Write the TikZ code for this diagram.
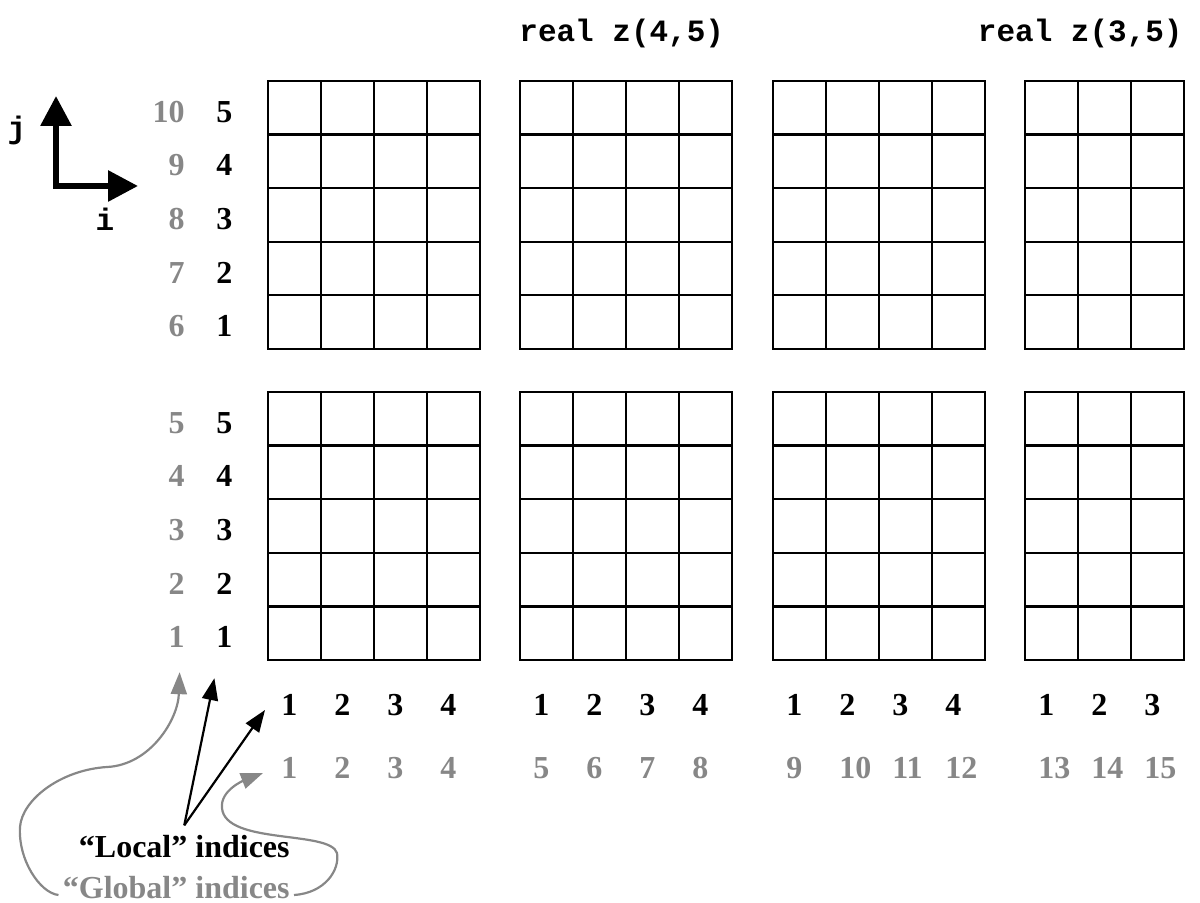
\documentclass[tikz,border=0pt]{standalone}
\usepackage{fontspec}
\setmainfont{Liberation Serif}
\setmonofont{Liberation Mono}
\usepackage{tikz}
\usetikzlibrary{arrows.meta}
\definecolor{globgray}{gray}{0.53}

\begin{document}
\begin{tikzpicture}[
  x=0.5pt,y=-0.5pt,
  cellbox/.style={draw,line width=1.1pt},
  lab/.style={font=\fontsize{16}{19}\selectfont\bfseries,inner sep=2pt},
  loclab/.style={lab,text=black},
  globlab/.style={lab,text=globgray},
  code/.style={font=\fontsize{15.5}{18}\selectfont\ttfamily\bfseries,inner sep=2pt},
  ptr/.style={-{Triangle[length=11pt,width=8pt]},line width=1.1pt},
  >={Triangle[length=15pt,width=15pt]}
]
\useasboundingbox (0,0) rectangle (1200,903);
% --- the four blocks, upper and lower row ---
\foreach \b/\bx/\nc in {0/268/4,1/520/4,2/773/4,3/1025/3}{
  \foreach \by in {81,392}{
    \foreach \c in {1,...,\nc}{
      \foreach \k in {0,...,4}{
        \draw[cellbox] (\bx+53*\c-53,\by+53.6*\k) rectangle ++(53,53.6);
      }
    }
  }
  % column indices
  \foreach \c in {1,...,\nc}{
    \pgfmathtruncatemacro{\g}{4*\b+\c}
    \node[loclab,anchor=west] (lc\g) at (\bx+53*\c-44,705) {\c};
    \node[globlab,anchor=west] (gc\g) at (\bx+53*\c-44,768) {\g};
  }
}
% row indices
\foreach \k in {1,...,5}{
  \pgfmathsetmacro{\yb}{637.2-53.6*(\k-1)}
  \pgfmathsetmacro{\yt}{326.2-53.6*(\k-1)}
  \pgfmathtruncatemacro{\gt}{\k+5}
  \node[loclab,anchor=west] (lrb\k) at (212,\yb) {\k};
  \node[globlab,anchor=east] (grb\k) at (189,\yb) {\k};
  \node[loclab,anchor=west] (lrt\k) at (212,\yt) {\k};
  \node[globlab,anchor=east] (grt\k) at (189,\yt) {\gt};
}
% declarations
\node[code,anchor=west] (ztitle1) at (515,33) {real z(4,5)};
\node[code,anchor=east] (ztitle2) at (1187,33) {real z(3,5)};
% i/j axes
\coordinate (jtip) at (56,96);
\coordinate (itip) at (138,186);
\draw[line width=3pt,<->] (jtip) |- (itip);
\node[code] (jlab) at (17,130) {j};
\node[code] (ilab) at (105,219) {i};
% legend
\node[loclab,anchor=east] (loctxt) at (294,847) {“Local” indices};
\node[globlab,anchor=east] (globtxt) at (294,888) {“Global” indices};
\draw[ptr] ([yshift=3pt]loctxt.north) -- ([xshift=-5pt,yshift=-13pt]lrb1.south);
\draw[ptr] ([yshift=3pt]loctxt.north) -- ([xshift=-6pt,yshift=-2.5pt]lc1.west);
\draw[ptr,globgray] ([yshift=-3.5pt]globtxt.west) .. controls (40,893) and (18,860) .. (20,827)
  .. controls (22,800) and (60,770) .. (107,767)
  .. controls (150,765) and (178,720) .. ([xshift=1.5pt,yshift=-10pt]grb1.south);
\draw[ptr,globgray] ([yshift=-3.5pt]globtxt.east) .. controls (325,893) and (340,870) .. (337,853)
  .. controls (330,830) and (225,845) .. (222,808)
  .. controls (220,790) and (245,780) .. ([xshift=-7pt,yshift=-2.5pt]gc1.west);
\end{tikzpicture}
\end{document}
